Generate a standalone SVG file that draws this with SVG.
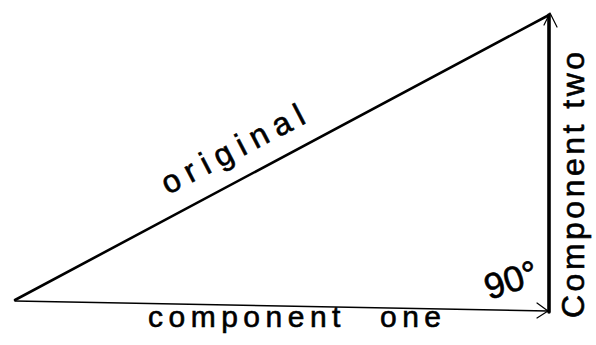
<svg xmlns="http://www.w3.org/2000/svg" width="596" height="345" viewBox="0 0 596 345">
<style>
.lbl{font-family:"Liberation Sans","DejaVu Sans",sans-serif;fill:#000;stroke:#000;stroke-width:0.6;}
.ln{stroke:#000;fill:none;stroke-linecap:round;}
.head{stroke:#000;fill:none;stroke-width:1.2;stroke-linecap:round;stroke-linejoin:round;}
</style>
<rect width="596" height="345" fill="#fff"/>
<g id="connectors">
  <line id="original-vec" class="ln" x1="15" y1="300" x2="549" y2="15" stroke-width="2.6"/>
  <line id="component-one-vec" class="ln" x1="15" y1="301" x2="548" y2="311" stroke-width="1.5"/>
  <polyline class="head" points="537,303 548,311 537,318"/>
  <line id="component-two-vec" class="ln" x1="549" y1="312" x2="549" y2="15" stroke-width="3.6"/>
  <polyline class="head" points="544,25 550,13 557,27"/>
</g>
<g id="label-original">
  <text class="lbl" transform="translate(168,195) rotate(-27.5)" font-size="32" letter-spacing="7.7">original</text>
</g>
<g id="label-component-one">
  <text class="lbl" x="148" y="327" font-size="30" letter-spacing="5.5">component<tspan x="380">one</tspan></text>
</g>
<g id="label-component-two">
  <text class="lbl" transform="translate(584,318) rotate(-90)" font-size="32" letter-spacing="3.5">Component two</text>
</g>
<g id="label-angle">
  <text class="lbl" transform="translate(489,300) rotate(-18)" font-size="36">90°</text>
</g>
</svg>
